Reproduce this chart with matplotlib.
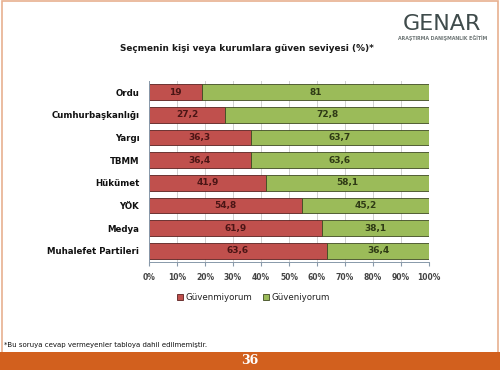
import matplotlib
matplotlib.use("Agg")
import matplotlib.pyplot as plt
from matplotlib.patches import Rectangle

categories = ["Ordu", "Cumhurbaşkanlığı", "Yargı", "TBMM", "Hükümet", "YÖK", "Medya", "Muhalefet Partileri"]
guvenmiyorum = [19, 27.2, 36.3, 36.4, 41.9, 54.8, 61.9, 63.6]
guveniyorum = [81, 72.8, 63.7, 63.6, 58.1, 45.2, 38.1, 36.4]
series_names = ["Güvenmiyorum", "Güveniyorum"]
tick_labels = ["0%", "10%", "20%", "30%", "40%", "50%", "60%", "70%", "80%", "90%", "100%"]

RED = "#C0504D"
GREEN = "#9BBB59"

fig = plt.figure(figsize=(5, 3.7), dpi=100)
fig.patch.set_facecolor("white")

# page border and footer
fig.patches.append(Rectangle((0.004, 0.004), 0.992, 0.992, transform=fig.transFigure,
                             fill=False, edgecolor="#E8B090", linewidth=1.2))
fig.patches.append(Rectangle((0.0, 0.0), 1.0, 0.05, transform=fig.transFigure,
                             facecolor="#D2601E", edgecolor="none"))
fig.text(0.5, 0.025, "36", color="white", fontsize=9, fontweight="bold",
         family="DejaVu Serif", ha="center", va="center")

# logo
fig.text(0.883, 0.918, "GENAR", color="#3F4B4B", fontsize=16, ha="center", va="baseline",
         family="DejaVu Sans")
fig.text(0.885, 0.898, "ARAŞTIRMA DANIŞMANLIK EĞİTİM", color="#707878", fontsize=3.4,
         ha="center", va="center", fontweight="bold")

# title
fig.text(0.494, 0.868, "Seçmenin kişi veya kurumlara güven seviyesi (%)*", fontsize=6.4,
         fontweight="bold", color="#1A1A1A", ha="center", va="center")

# footnote
fig.text(0.008, 0.068, "*Bu soruya cevap vermeyenler tabloya dahil edilmemiştir.", fontsize=5,
         color="#111111", ha="left", va="center")

ax = fig.add_axes([0.298, 0.292, 0.56, 0.489])
y = list(range(len(categories)))
b1 = ax.barh(y, guvenmiyorum, height=0.7, color=RED, edgecolor="#5A2020", linewidth=0.6,
             label=series_names[0])
b2 = ax.barh(y, guveniyorum, left=guvenmiyorum, height=0.7, color=GREEN, edgecolor="#3E4A22",
             linewidth=0.6, label=series_names[1])

for i in y:
    v1 = guvenmiyorum[i]
    v2 = guveniyorum[i]
    ax.text(v1 / 2, i, f"{v1:g}".replace(".", ","), ha="center", va="center",
            fontsize=6.5, color="#4A1515", fontweight="bold")
    ax.text(v1 + v2 / 2, i, f"{v2:g}".replace(".", ","), ha="center", va="center",
            fontsize=6.5, color="#2F3A15", fontweight="bold")

ax.set_xlim(0, 100)
ax.set_ylim(len(categories) - 0.5, -0.5)
ax.set_xticks(range(0, 101, 10))
ax.set_xticklabels(tick_labels, fontsize=5.5, color="#444444", fontweight="bold")
ax.set_yticks(y)
ax.set_yticklabels(categories, fontsize=6.2, color="#111111", fontweight="bold")
ax.tick_params(axis="y", length=0, pad=7)
ax.tick_params(axis="x", length=3, color="#8899AA", pad=5, direction="out")
ax.xaxis.grid(True, color="#D0D0D0", linewidth=0.7)
ax.set_axisbelow(True)
for s in ["top", "right"]:
    ax.spines[s].set_visible(False)
ax.spines["left"].set_color("#8899AA")
ax.spines["bottom"].set_color("#8899AA")
ax.spines["left"].set_linewidth(0.7)
ax.spines["bottom"].set_linewidth(0.7)

leg = fig.legend(handles=[b1, b2], labels=series_names, loc="center", bbox_to_anchor=(0.507, 0.195),
                 ncol=2, frameon=False, fontsize=6.2, handlelength=0.7, handleheight=0.7,
                 handletextpad=0.3, columnspacing=1.2)
for t in leg.get_texts():
    t.set_color("#222222")

fig.savefig("out.png", dpi=100, facecolor="white")
